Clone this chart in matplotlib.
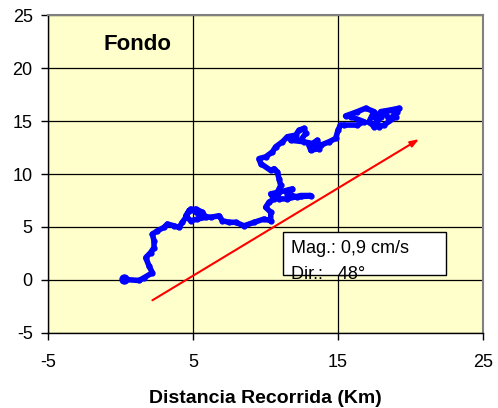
import numpy as np
import matplotlib.pyplot as plt
from matplotlib.patches import Rectangle

plt.rcParams['font.family'] = ['Liberation Sans', 'DejaVu Sans']
plt.rcParams['axes.unicode_minus'] = False

# progressive vector trajectory (km)
path_x = [0.24, 1.28, 1.62, 2.20, 1.97, 1.74, 2.08, 2.31, 2.31, 2.20,
          2.54, 3.00, 3.23, 3.69, 4.03, 4.27, 4.50, 4.72, 5.19, 5.65,
          5.88, 5.30, 4.84, 4.50, 4.84, 5.53, 6.22, 6.79, 7.03, 7.48,
          7.94, 8.52, 9.21, 9.90, 10.36, 10.36, 10.01, 10.24, 10.59, 10.36,
          10.93, 11.39, 11.86, 11.51, 12.20, 13.12, 12.43, 11.51, 10.93, 10.82,
          11.05, 10.93, 10.82, 10.59, 10.36, 9.67, 9.55, 10.01, 10.48, 10.70,
          11.17, 11.51, 12.08, 12.31, 12.66, 12.77, 12.43, 11.74, 12.66, 13.23,
          13.58, 13.69, 13.12, 13.00, 13.81, 14.38, 14.84, 15.00, 15.17, 15.41,
          16.34, 16.79, 15.87, 15.52, 16.34, 16.91, 17.48, 17.14, 17.48, 17.95,
          18.29, 18.52, 19.10, 19.21, 18.64, 17.95, 17.60, 17.83, 18.17, 19.00]
path_y = [0.05, -0.05, 0.21, 0.68, 1.31, 2.11, 2.59, 3.06, 3.69, 4.33,
          4.64, 4.96, 5.28, 5.11, 4.96, 5.44, 5.91, 6.54, 6.70, 6.39,
          5.91, 5.75, 5.59, 6.06, 6.70, 6.06, 5.91, 6.06, 5.59, 5.44,
          5.44, 5.11, 5.44, 5.75, 5.59, 6.39, 6.86, 7.34, 7.65, 8.13,
          8.29, 8.44, 8.60, 8.13, 7.81, 7.97, 7.97, 7.65, 7.65, 8.29,
          8.92, 9.55, 10.19, 10.50, 10.34, 10.98, 11.45, 11.62, 12.09, 12.57,
          13.04, 13.52, 13.67, 14.14, 14.31, 13.83, 13.19, 13.19, 13.04, 12.88,
          13.19, 12.40, 12.24, 12.72, 12.72, 13.04, 13.36, 14.14, 14.62, 14.62,
          14.62, 14.94, 15.42, 15.48, 15.89, 16.21, 15.89, 14.94, 14.47, 15.42,
          15.73, 15.10, 15.89, 16.21, 16.05, 15.89, 15.26, 14.47, 14.62, 15.42]

# mean direction arrow (start, end)
arrow_start = (2.2, -1.92)
arrow_end = (20.59, 13.29)

mag_text = "Mag.: 0,9 cm/s"
dir_text = "Dir.:   48°"
title_text = "Fondo"

fig = plt.figure(figsize=(4.98, 4.08), dpi=100)
ax = fig.add_axes([0.0964, 0.184, 0.8735, 0.779])
ax.set_facecolor('#FFFFCC')

ax.plot(path_x, path_y, color='#0000FF', lw=4, solid_joinstyle='round',
        solid_capstyle='round', marker='o', ms=3.5, zorder=3)
ax.plot(path_x[0], path_y[0], 'o', color='#0000FF', ms=6.5, zorder=3)

ax.annotate('', xy=arrow_end, xytext=arrow_start,
            arrowprops=dict(arrowstyle='-|>,head_length=0.5,head_width=0.18',
                            color='#FF0000', lw=1.5, shrinkA=0, shrinkB=0),
            zorder=4)

box = Rectangle((11.21, 0.43), 11.22, 4.11, facecolor='white',
                edgecolor='black', lw=1.0, zorder=5)
ax.add_patch(box)
ax.text(11.75, 2.55, mag_text, fontsize=13, zorder=6, va='baseline')
t2 = ax.text(11.75, 0.1, dir_text, fontsize=13, zorder=6, va='baseline')
t2.set_clip_path(box)

ax.text(-1.16, 21.75, title_text, fontsize=16, fontweight='bold', va='baseline')

ax.set_xlim(-5, 25)
ax.set_ylim(-5, 25)
ax.set_xticks([-5, 5, 15, 25])
ax.set_yticks(np.arange(-5, 26, 5))
ax.tick_params(direction='out', length=5, width=1, labelsize=13, colors='black')
ax.tick_params(axis='x', pad=10)
ax.tick_params(axis='y', pad=6)
ax.grid(True, color='black', lw=0.9)
ax.set_axisbelow(True)

for s in ['top', 'right']:
    ax.spines[s].set_color('#808080')
    ax.spines[s].set_linewidth(1.5)
for s in ['left', 'bottom']:
    ax.spines[s].set_color('black')
    ax.spines[s].set_linewidth(1)

ax.set_xlabel("Distancia Recorrida (Km)", fontsize=14, fontweight='bold',
              labelpad=14)

fig.savefig('out.png', dpi=100)
